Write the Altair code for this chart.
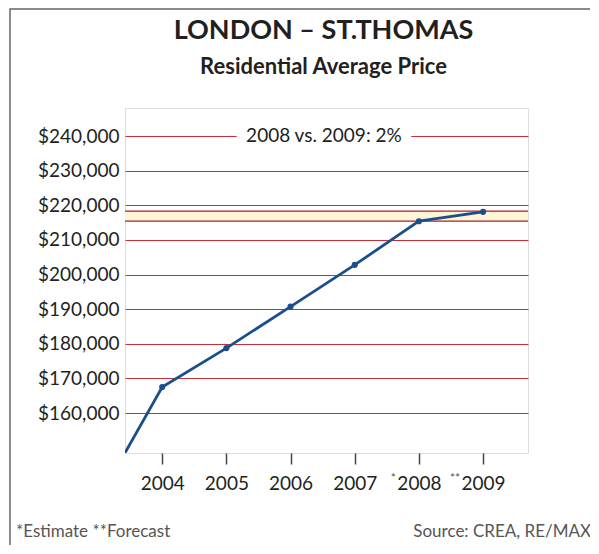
import altair as alt
import pandas as pd

# ---- data ----
years = [2003, 2004, 2005, 2006, 2007, 2008, 2009]
prices = [134700, 167500, 178750, 190750, 202800, 215400, 218100]
marker_years = [2004, 2005, 2006, 2007, 2008, 2009]
marker_prices = [167500, 178750, 190750, 202800, 215400, 218100]
tick_years = [2004, 2005, 2006, 2007, 2008, 2009]
grid_values = [160000, 170000, 180000, 190000, 200000, 210000, 220000, 230000, 240000]
band_low, band_high = 215400, 218300
x_domain = [2003.42, 2009.70]
y_domain = [148450, 248100]
annotation = "2008 vs. 2009: 2%"
annot_x, annot_y = 2006.52, 240000
annot_gap = [2005.16, 2007.88]
star_labels = [(2008, "*"), (2009, "**")]
title = "LONDON – ST.THOMAS"
subtitle = "Residential Average Price"
foot_left = "*Estimate **Forecast"
foot_right = "Source: CREA, RE/MAX"

W, H = 403, 345
FONT = "Lato"
DARK = "#231f20"
BLUE = "#1b4f8c"
RED = "#c62f3a"
DRED = "#b01c28"

line_df = pd.DataFrame({"year": years, "price": prices})
pt_df = pd.DataFrame({"year": marker_years, "price": marker_prices})

xs = alt.Scale(domain=x_domain, nice=False, zero=False)
ys = alt.Scale(domain=y_domain, nice=False, zero=False)

x_axis = alt.Axis(values=tick_years, format="d", title=None, grid=False, domain=False,
                  ticks=True, tickSize=11, tickColor="#444", tickWidth=1.5,
                  labelFont=FONT, labelFontSize=19, labelColor=DARK, labelPadding=10)
y_axis = alt.Axis(values=grid_values, format="$,d", title=None, grid=True,
                  gridColor=RED, gridWidth=1, domain=False, ticks=False,
                  labelFont=FONT, labelFontSize=19, labelColor=DARK, labelPadding=6)

base = alt.Chart(line_df)

line = base.mark_line(color=BLUE, strokeWidth=2.8, clip=True).encode(
    x=alt.X("year:Q", scale=xs, axis=x_axis),
    y=alt.Y("price:Q", scale=ys, axis=y_axis),
)

band_df = pd.DataFrame({"lo": [band_low], "hi": [band_high]})
band = alt.Chart(band_df).mark_rect(fill="#fdf6d6").encode(
    x=alt.value(0), x2=alt.value(W),
    y=alt.Y("lo:Q", scale=ys), y2="hi:Q",
)
band_lines_df = pd.DataFrame({"v": [band_low, band_high]})
band_lines = alt.Chart(band_lines_df).mark_rule(color=DRED, strokeWidth=1.3).encode(
    x=alt.value(0), x2=alt.value(W), y=alt.Y("v:Q", scale=ys),
)

gap_df = pd.DataFrame({"x1": [annot_gap[0]], "x2": [annot_gap[1]],
                       "y1": [annot_y - 1500], "y2": [annot_y + 1500]})
gap = alt.Chart(gap_df).mark_rect(fill="white").encode(
    x=alt.X("x1:Q", scale=xs), x2="x2:Q",
    y=alt.Y("y1:Q", scale=ys), y2="y2:Q",
)
annot_df = pd.DataFrame({"x": [annot_x], "y": [annot_y], "t": [annotation]})
annot = alt.Chart(annot_df).mark_text(font=FONT, fontSize=19, color=DARK,
                                      baseline="middle", align="center").encode(
    x=alt.X("x:Q", scale=xs), y=alt.Y("y:Q", scale=ys), text="t:N",
)

points = alt.Chart(pt_df).mark_circle(color=BLUE, size=38, opacity=1).encode(
    x=alt.X("year:Q", scale=xs), y=alt.Y("price:Q", scale=ys),
)

star_df = pd.DataFrame({"year": [s[0] for s in star_labels], "t": [s[1] for s in star_labels]})
stars = alt.Chart(star_df).mark_text(font=FONT, fontSize=12, color="#555", align="right",
                                     baseline="middle", dx=-23).encode(
    x=alt.X("year:Q", scale=xs), y=alt.value(H + 25), text="t:N",
)

title_df = pd.DataFrame({"t": [title]})
title_mark = alt.Chart(title_df).mark_text(
    font=FONT, fontSize=27, fontWeight="bold", color=DARK, align="center",
    baseline="alphabetic").encode(x=alt.value(W / 2 - 3), y=alt.value(-69), text="t:N")
sub_df = pd.DataFrame({"t": [subtitle]})
sub_mark = alt.Chart(sub_df).mark_text(
    font=FONT, fontSize=22, fontWeight="bold", color=DARK, align="center",
    baseline="alphabetic").encode(x=alt.value(W / 2 - 3), y=alt.value(-34), text="t:N")

foot_l = alt.Chart(pd.DataFrame({"t": [foot_left]})).mark_text(
    font=FONT, fontSize=17, color="#555", align="left", baseline="alphabetic").encode(
    x=alt.value(-109), y=alt.value(H + 84), text="t:N")
foot_r = alt.Chart(pd.DataFrame({"t": [foot_right]})).mark_text(
    font=FONT, fontSize=17, color="#555", align="right", baseline="alphabetic").encode(
    x=alt.value(W + 63), y=alt.value(H + 84), text="t:N")

frame = alt.Chart(pd.DataFrame({"a": [0]})).mark_rect(
    fill=None, stroke="#666", strokeWidth=1.5).encode(
    x=alt.value(-115), x2=alt.value(W + 200), y=alt.value(-99), y2=alt.value(H + 300))

chart = alt.layer(
    frame, band, band_lines, gap, annot, line, points, stars, title_mark, sub_mark,
    foot_l, foot_r
).properties(
    width=W, height=H,
    autosize=alt.AutoSizeParams(type="none"),
    padding={"left": 117, "top": 100, "right": 62, "bottom": 92},
).configure_view(stroke="#3c3c3c", strokeWidth=1.5).configure(background="white")

chart.save("out.html", embed_options={"renderer": "svg", "actions": False})
